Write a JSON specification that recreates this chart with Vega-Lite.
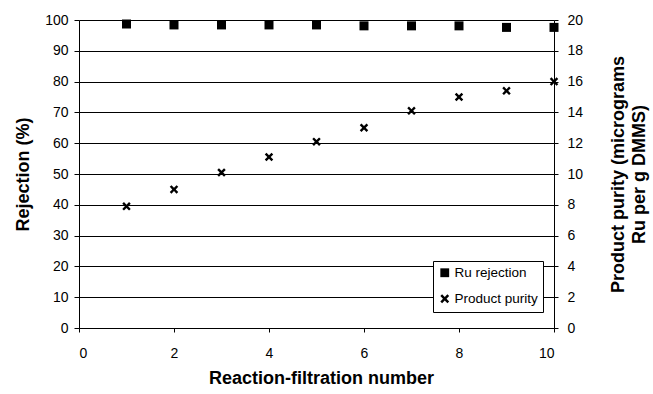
{
  "$schema": "https://vega.github.io/schema/vega-lite/v6.json",
  "autosize": {"type": "none"},
  "width": 475,
  "height": 308,
  "padding": {"left": 79, "top": 20, "right": 99, "bottom": 66},
  "background": "white",
  "config": {
    "view": {"stroke": null},
    "font": "Liberation Sans",
    "axis": {
      "domainColor": "black",
      "tickColor": "black",
      "labelColor": "black",
      "titleColor": "black",
      "labelFont": "Liberation Sans",
      "titleFont": "Liberation Sans",
      "labelFontSize": 14,
      "titleFontSize": 18,
      "titleFontWeight": "bold"
    }
  },
  "data": {
    "values": [
      {"n": 1, "rejection": 98.7, "purity": 7.9},
      {"n": 2, "rejection": 98.4, "purity": 9.0},
      {"n": 3, "rejection": 98.4, "purity": 10.1},
      {"n": 4, "rejection": 98.4, "purity": 11.1},
      {"n": 5, "rejection": 98.4, "purity": 12.1},
      {"n": 6, "rejection": 98.1, "purity": 13.0},
      {"n": 7, "rejection": 98.1, "purity": 14.1},
      {"n": 8, "rejection": 98.1, "purity": 15.0},
      {"n": 9, "rejection": 97.6, "purity": 15.4},
      {"n": 10, "rejection": 97.6, "purity": 16.0}
    ]
  },
  "encoding": {
    "x": {
      "field": "n",
      "type": "quantitative",
      "scale": {"domain": [0, 10], "nice": false},
      "axis": {
        "title": "Reaction-filtration number",
        "values": [0, 2, 4, 6, 8, 10],
        "grid": false,
        "tickSize": 4,
        "labelPadding": 14,
        "titleBaseline": "alphabetic",
        "titleY": 55,
        "titleX": 242
      }
    }
  },
  "layer": [
    {
      "mark": {"type": "point", "filled": true, "color": "black", "size": 81, "opacity": 1},
      "encoding": {
        "y": {
          "field": "rejection",
          "type": "quantitative",
          "scale": {"domain": [0, 100], "nice": false},
          "axis": {
            "title": "Rejection (%)",
            "orient": "left",
            "values": [0, 10, 20, 30, 40, 50, 60, 70, 80, 90, 100],
            "grid": true,
            "gridColor": "black",
            "tickSize": 5,
            "labelPadding": 6,
            "titleAngle": 270,
            "titleBaseline": "alphabetic",
            "titleX": -51,
            "titleY": 154,
            "titleAlign": "center"
          }
        },
        "shape": {
          "datum": "Ru rejection",
          "scale": {
            "domain": ["Ru rejection", "Product purity"],
            "range": ["square", "M-1,-0.6L-0.6,-1L0,-0.4L0.6,-1L1,-0.6L0.4,0L1,0.6L0.6,1L0,0.4L-0.6,1L-1,0.6L-0.4,0Z"]
          },
          "legend": {
            "title": null,
            "orient": "none",
            "legendX": 354,
            "legendY": 241,
            "padding": 5,
            "rowPadding": 10,
            "strokeColor": "black",
            "fillColor": "white",
            "symbolSize": 78,
            "symbolFillColor": "black",
            "symbolStrokeColor": "black",
            "labelFont": "Liberation Sans",
            "labelFontSize": 13.5,
            "labelColor": "black",
            "labelOffset": 3
          }
        }
      }
    },
    {
      "mark": {"type": "point", "filled": true, "color": "black", "size": 72, "opacity": 1},
      "encoding": {
        "y": {
          "field": "purity",
          "type": "quantitative",
          "scale": {"domain": [0, 20], "nice": false},
          "axis": {
            "title": ["Product purity (micrograms", "Ru per g DMMS)"],
            "orient": "right",
            "values": [0, 2, 4, 6, 8, 10, 12, 14, 16, 18, 20],
            "grid": false,
            "tickSize": 4,
            "labelPadding": 9,
            "titleAngle": 270,
            "titleBaseline": "top",
            "titleAlign": "center",
            "titleX": 55,
            "titleY": 154,
            "titleLineHeight": 21
          }
        },
        "shape": {"datum": "Product purity"}
      }
    }
  ],
  "resolve": {"scale": {"y": "independent"}}
}
